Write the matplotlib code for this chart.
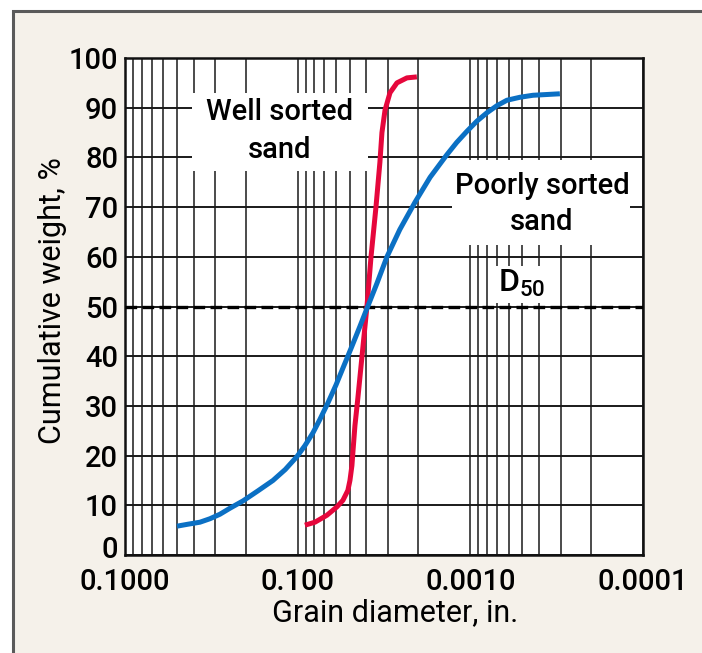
import matplotlib.pyplot as plt
from matplotlib.patches import Rectangle
from matplotlib.transforms import ScaledTranslation
from matplotlib.ticker import FixedLocator, FixedFormatter, LogLocator, NullFormatter

plt.rcParams['font.family'] = ['Roboto', 'DejaVu Sans']
plt.rcParams['font.weight'] = 'medium'
plt.rcParams['mathtext.fontset'] = 'custom'
plt.rcParams['mathtext.rm'] = 'Roboto:medium'

# Well sorted sand: grain diameter (in.) and cumulative weight (%)
well_d = [0.00908, 0.00794, 0.00677, 0.00592, 0.00547, 0.00512, 0.00498, 0.00485,
          0.00478, 0.00466, 0.00448, 0.00424, 0.00397, 0.00376, 0.00352, 0.00334,
          0.00325, 0.00312, 0.00292, 0.00266, 0.00233, 0.00204]
well_w = [6.0, 6.6, 8.0, 9.7, 11.0, 13.0, 15.0, 18.0,
          21.0, 26.0, 31.6, 40.0, 50.0, 60.0, 70.0, 79.0,
          85.0, 89.5, 93.0, 95.0, 96.0, 96.2]

# Poorly sorted sand
poor_d = [0.0500, 0.0431, 0.0368, 0.0322, 0.0282, 0.0247, 0.0207, 0.0170,
          0.0139, 0.0118, 0.0101, 0.00908, 0.00815, 0.00743, 0.00668, 0.00600,
          0.00547, 0.00485, 0.00436, 0.00397, 0.00348, 0.00304, 0.00256, 0.00209,
          0.00171, 0.00137, 0.00120, 0.00105, 0.000916, 0.00080, 0.000702,
          0.000614, 0.000516, 0.000434, 0.000303]
poor_w = [5.8, 6.2, 6.6, 7.3, 8.2, 9.4, 10.9, 12.9,
          15.0, 17.2, 19.8, 22.0, 24.6, 27.3, 30.6, 34.2,
          37.6, 42.0, 46.0, 49.6, 54.6, 60.0, 65.5, 71.0,
          76.0, 80.5, 83.0, 85.2, 87.3, 89.0, 90.4,
          91.5, 92.1, 92.5, 92.8]

x_ticks = [0.1, 0.01, 0.001, 0.0001]
x_tick_labels = ['0.1000', '0.100', '0.0010', '0.0001']
y_ticks = list(range(0, 101, 10))
d50 = 50

beige = '#f5f1ea'
red = '#e6073c'
blue = '#0b70c4'
fs = 21

fig = plt.figure(figsize=(7.02, 6.53), dpi=100, facecolor='white')
fig.patches.append(Rectangle((13 / 702, -0.1), 1.2, 1 - 11 / 653 + 0.1,
                             transform=fig.transFigure, facecolor=beige,
                             edgecolor='#5a5a5a', linewidth=2.2, zorder=-10))

ax = fig.add_axes([125 / 702, 1 - 555 / 653, 518 / 702, 497 / 653])
ax.set_facecolor('white')
ax.set_xscale('log')
ax.set_xlim(0.1, 0.0001)
ax.set_ylim(0, 100)

ax.xaxis.set_major_locator(FixedLocator(x_ticks))
ax.xaxis.set_major_formatter(FixedFormatter(x_tick_labels))
ax.xaxis.set_minor_locator(LogLocator(base=10, subs=range(2, 10)))
ax.xaxis.set_minor_formatter(NullFormatter())
ax.set_yticks(y_ticks)

ax.grid(True, which='both', axis='x', color='#1a1a1a', linewidth=1.1)
ax.grid(True, which='major', axis='y', color='#1a1a1a', linewidth=1.4)
ax.tick_params(which='both', length=0)
ax.tick_params(axis='x', pad=9, labelsize=fs)
ax.tick_params(axis='y', pad=5, labelsize=fs)
for s in ax.spines.values():
    s.set_linewidth(1.8)
    s.set_color('#111111')

# the "0" label sits a little higher in the original
lab0 = ax.get_yticklabels()[0]
lab0.set_transform(lab0.get_transform() + ScaledTranslation(0, 8 / 100, fig.dpi_scale_trans))

# white boxes behind the labels
for (x0, y0, w, h) in [(0.129, 0.773, 0.340, 0.157),
                       (0.631, 0.624, 0.344, 0.171),
                       (0.705, 0.507, 0.106, 0.074)]:
    ax.add_patch(Rectangle((x0, y0), w, h, transform=ax.transAxes,
                           facecolor='white', edgecolor='none', zorder=2))

ax.axhline(d50, color='black', linewidth=2.4, linestyle=(0, (3.5, 1.6)), zorder=3.5)

ax.plot(well_d, well_w, color=red, linewidth=3.6, solid_capstyle='butt',
        solid_joinstyle='round', zorder=4)
ax.plot(poor_d, poor_w, color=blue, linewidth=3.6, solid_capstyle='butt',
        solid_joinstyle='round', zorder=4)

ax.text(0.299, 0.853, 'Well sorted\nsand', transform=ax.transAxes, ha='center',
        va='center', fontsize=fs, linespacing=1.42, zorder=3)
ax.text(0.805, 0.707, 'Poorly sorted\nsand', transform=ax.transAxes, ha='center',
        va='center', fontsize=fs, linespacing=1.36, zorder=3)
ax.text(0.765, 0.547, r'$\mathrm{D}_{50}$', transform=ax.transAxes, ha='center',
        va='center', fontsize=fs + 2, zorder=3)

ax.set_ylabel('Cumulative weight, %', fontsize=22)
ax.yaxis.set_label_coords(-0.112, 0.511)
ax.set_xlabel('Grain diameter, in.', fontsize=22)
ax.xaxis.set_label_coords(0.521, -0.086)

plt.savefig('out.png', dpi=100, facecolor=fig.get_facecolor())
